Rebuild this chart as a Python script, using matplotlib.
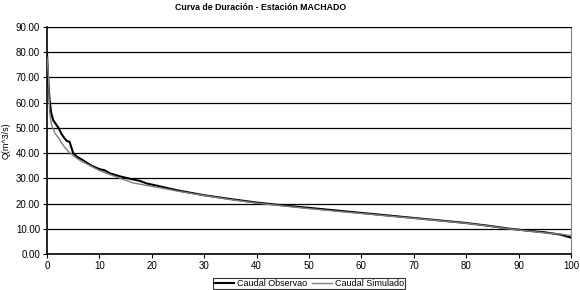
import matplotlib.pyplot as plt

plt.rcParams['font.family'] = ['Liberation Sans', 'DejaVu Sans']

# porcentaje de tiempo excedido y caudales
x_obs = [0, 0.2, 0.5, 0.8, 1.2, 1.7, 2.2, 2.8, 3.3, 3.8, 4.3, 4.7, 5.0, 5.7, 7, 8.5,
         10.1, 11, 12, 13.9, 15.5, 17.7, 19, 20.3, 22, 25, 30, 35, 40, 45, 50, 55,
         60, 65, 70, 75, 80, 85, 88, 92, 95, 98, 100]
q_obs = [80, 70, 61, 56, 53, 51.5, 50, 47.5, 46, 44.8, 44.5, 42, 40, 38.6, 37, 35,
         33.6, 33.2, 32, 30.8, 30, 29, 28, 27.4, 26.6, 25.2, 23.3, 21.8, 20.4, 19.3,
         18.3, 17.3, 16.3, 15.3, 14.3, 13.3, 12.3, 11, 10.1, 9.2, 8.6, 7.7, 6.5]

x_sim = [0, 0.3, 0.5, 0.9, 1.5, 2.2, 2.8, 3.5, 4.1, 5.0, 6, 7.5, 10.1, 12, 14, 16.4,
         18, 20, 22, 25, 30, 35, 40, 45, 50, 55, 60, 65, 70, 75, 80, 85, 88, 92,
         95, 98, 100]
q_sim = [78, 70, 56, 51, 48, 46, 44, 42, 40.6, 39, 37.5, 35.8, 33, 31.5, 30, 28.2,
         27.6, 26.8, 26.1, 24.9, 23.2, 21.6, 20.2, 19.1, 18.0, 17.0, 16.1, 15.1,
         14.2, 13.2, 12.2, 10.9, 10.0, 9.1, 8.4, 7.9, 7.3]

fig = plt.figure(figsize=(5.8, 2.9), dpi=100)
ax = fig.add_axes([0.081, 0.124, 0.9035, 0.783])

ax.plot(x_obs, q_obs, color='black', lw=1.5, label='Caudal Observao', zorder=3)
ax.plot(x_sim, q_sim, color='#808080', lw=1.0, label='Caudal Simulado', zorder=4)

ax.set_xlim(0, 100)
ax.set_ylim(0, 90)
ax.set_xticks(range(0, 101, 10))
ax.set_yticks(range(0, 91, 10))
ax.set_yticklabels([f'{v:.2f}' for v in range(0, 91, 10)])
ax.yaxis.grid(True, color='black', lw=0.9)
ax.set_axisbelow(True)

ax.tick_params(labelsize=7, length=3, width=0.8, pad=2)
for s in ['left', 'bottom']:
    ax.spines[s].set_color('black')
    ax.spines[s].set_linewidth(1.2)
ax.spines['top'].set_color('black')
ax.spines['right'].set_color('#808080')

ax.set_ylabel('Q(m^3/s)', fontsize=6.5, labelpad=4)
fig.text(0.45, 0.975, 'Curva de Duración - Estación MACHADO', fontsize=6.3,
         fontweight='bold', ha='center', va='center')

leg = fig.legend(loc='center', bbox_to_anchor=(0.533, 0.022), ncol=2, fontsize=6.5,
                 frameon=True, fancybox=False, edgecolor='black', borderpad=0.15,
                 handlelength=2.2, handletextpad=0.3, columnspacing=0.6)
leg.get_frame().set_linewidth(0.8)

fig.savefig('out.png', dpi=100)
